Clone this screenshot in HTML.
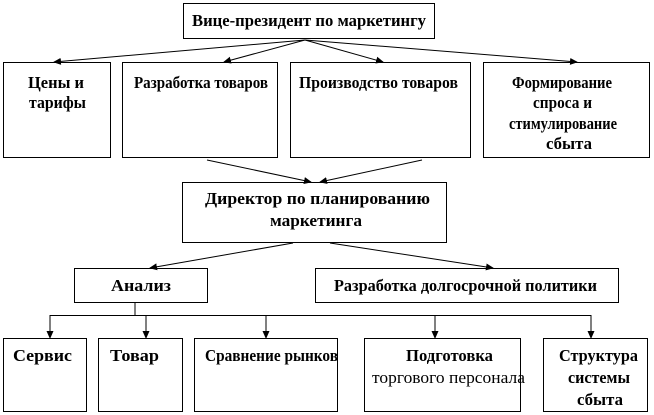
<!DOCTYPE html>
<html><head><meta charset="utf-8"><style>html,body{margin:0;padding:0;background:#fff}svg{display:block}</style></head>
<body>
<svg width="654" height="415" viewBox="0 0 654 415" xmlns="http://www.w3.org/2000/svg">
<defs><marker id="a" markerWidth="8" markerHeight="8" refX="7" refY="4" orient="auto" markerUnits="userSpaceOnUse"><path d="M0,0.5 L8,4 L0,7.5 Z" fill="#000"/></marker></defs>
<g fill="#fff" stroke="#000" stroke-width="1">
<rect x="183.5" y="3.5" width="251" height="35"/>
<rect x="3.5" y="62.5" width="107" height="95"/>
<rect x="122.5" y="62.5" width="155" height="95"/>
<rect x="290.5" y="62.5" width="180" height="95"/>
<rect x="483.5" y="62.5" width="166" height="95"/>
<rect x="182.5" y="182.5" width="264" height="60"/>
<rect x="74.5" y="268.5" width="133" height="34"/>
<rect x="315.5" y="268.5" width="303" height="34"/>
<rect x="3.5" y="338.5" width="83" height="73"/>
<rect x="98.5" y="338.5" width="84" height="73"/>
<rect x="194.5" y="338.5" width="143" height="73"/>
<rect x="364.5" y="338.5" width="156" height="73"/>
<rect x="543.5" y="338.5" width="104" height="73"/>
</g>
<g stroke="#000" stroke-width="1" fill="none" marker-end="url(#a)">
<line x1="305" y1="40" x2="54" y2="62"/>
<line x1="305" y1="40" x2="224" y2="62"/>
<line x1="305" y1="40" x2="383" y2="62"/>
<line x1="305" y1="40" x2="577" y2="62"/>
<line x1="207" y1="160" x2="311" y2="182"/>
<line x1="422" y1="160" x2="320" y2="182"/>
<line x1="293" y1="243" x2="150" y2="268"/>
<line x1="330" y1="243" x2="493" y2="268"/>
<line x1="50" y1="315" x2="50" y2="338"/>
<line x1="146" y1="315" x2="146" y2="338"/>
<line x1="266" y1="315" x2="266" y2="338"/>
<line x1="435" y1="315" x2="435" y2="338"/>
<line x1="591" y1="315" x2="591" y2="338"/>
</g>
<g stroke="#000" stroke-width="1"><line x1="135" y1="302" x2="135" y2="315"/><line x1="50" y1="315.5" x2="591" y2="315.5"/></g>
<g font-family="Liberation Serif, serif" font-weight="bold" font-size="17" fill="#000" lengthAdjust="spacingAndGlyphs">
<text x="192" y="26" textLength="234" lengthAdjust="spacingAndGlyphs">Вице-президент по маркетингу</text>
<text x="28" y="88" textLength="56" lengthAdjust="spacingAndGlyphs">Цены и</text>
<text x="29" y="108" textLength="57" lengthAdjust="spacingAndGlyphs">тарифы</text>
<text x="134" y="88" textLength="134" lengthAdjust="spacingAndGlyphs">Разработка товаров</text>
<text x="299" y="88" textLength="159" lengthAdjust="spacingAndGlyphs">Производство товаров</text>
<text x="512" y="88" textLength="100" lengthAdjust="spacingAndGlyphs">Формирование</text>
<text x="533" y="108" textLength="59" lengthAdjust="spacingAndGlyphs">спроса и</text>
<text x="509" y="129" textLength="108" lengthAdjust="spacingAndGlyphs">стимулирование</text>
<text x="546" y="149" textLength="46" lengthAdjust="spacingAndGlyphs">сбыта</text>
<text x="205" y="204" textLength="225" lengthAdjust="spacingAndGlyphs">Директор по планированию</text>
<text x="270" y="226" textLength="92" lengthAdjust="spacingAndGlyphs">маркетинга</text>
<text x="111" y="291" textLength="60" lengthAdjust="spacingAndGlyphs">Анализ</text>
<text x="334" y="291" textLength="263" lengthAdjust="spacingAndGlyphs">Разработка долгосрочной политики</text>
<text x="13" y="361" textLength="59" lengthAdjust="spacingAndGlyphs">Сервис</text>
<text x="110" y="361" textLength="49" lengthAdjust="spacingAndGlyphs">Товар</text>
<text x="205" y="361" textLength="133" lengthAdjust="spacingAndGlyphs">Сравнение рынков</text>
<text x="406" y="361" textLength="87" lengthAdjust="spacingAndGlyphs">Подготовка</text>
<text x="372" y="383" textLength="153" lengthAdjust="spacingAndGlyphs" font-weight="normal">торгового персонала</text>
<text x="559" y="361" textLength="79" lengthAdjust="spacingAndGlyphs">Структура</text>
<text x="568" y="383" textLength="62" lengthAdjust="spacingAndGlyphs">системы</text>
<text x="577" y="405" textLength="46" lengthAdjust="spacingAndGlyphs">сбыта</text>
</g>
</svg>
</body></html>
